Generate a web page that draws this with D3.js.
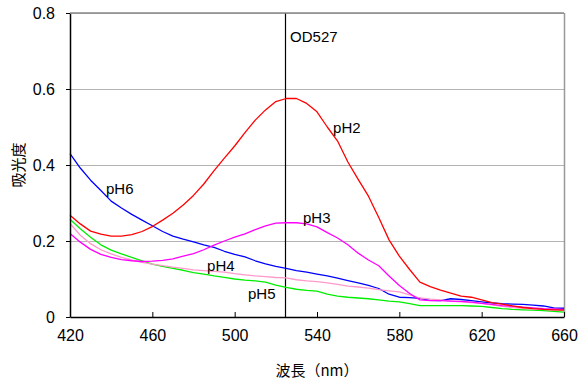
<!DOCTYPE html>
<html>
<head>
<meta charset="utf-8">
<script src="https://cdn.jsdelivr.net/npm/d3@7"></script>
<style>
  body { margin: 0; background: #fff; }
  text { font-family: "Liberation Sans", Arial, sans-serif; fill: #000; }
  .jp { font-family: "Noto Sans CJK JP", sans-serif; }
</style>
</head>
<body>
<div id="chart"></div>
<script>
// wavelengths, every 5 nm from 420 to 660
const wavelengths = [420, 425, 430, 435, 440, 445, 450, 455, 460, 465, 470, 475, 480, 485, 490, 495,
  500, 505, 510, 515, 520, 525, 530, 535, 540, 545, 550, 555, 560, 565, 570, 575, 580, 585, 590,
  595, 600, 605, 610, 615, 620, 625, 630, 635, 640, 645, 650, 655, 660];

const pH2 = [0.268, 0.245, 0.226, 0.218, 0.213, 0.213, 0.217, 0.225, 0.238, 0.255, 0.273, 0.295,
  0.320, 0.350, 0.385, 0.418, 0.450, 0.485, 0.518, 0.545, 0.567, 0.575, 0.575, 0.562, 0.540, 0.500,
  0.463, 0.408, 0.362, 0.318, 0.262, 0.203, 0.160, 0.125, 0.092, 0.080, 0.071, 0.063, 0.055, 0.052,
  0.045, 0.038, 0.034, 0.029, 0.025, 0.022, 0.020, 0.019, 0.018];

const pH3 = [0.220, 0.197, 0.178, 0.165, 0.157, 0.151, 0.148, 0.146, 0.147, 0.149, 0.153, 0.160,
  0.167, 0.177, 0.189, 0.200, 0.210, 0.219, 0.230, 0.240, 0.247, 0.248, 0.248, 0.245, 0.237, 0.222,
  0.208, 0.190, 0.168, 0.150, 0.135, 0.108, 0.083, 0.062, 0.045, 0.043, 0.043, 0.042, 0.041, 0.039,
  0.036, 0.033, 0.030, 0.028, 0.026, 0.024, 0.022, 0.021, 0.020];

const pH4 = [0.246, 0.215, 0.193, 0.177, 0.166, 0.157, 0.150, 0.144, 0.139, 0.135, 0.131, 0.128,
  0.124, 0.122, 0.120, 0.118, 0.114, 0.111, 0.108, 0.106, 0.104, 0.103, 0.098, 0.095, 0.093, 0.090,
  0.086, 0.081, 0.079, 0.076, 0.072, 0.069, 0.066, 0.058, 0.050, 0.047, 0.045, 0.042, 0.040, 0.038,
  0.036, 0.032, 0.028, 0.025, 0.023, 0.021, 0.020, 0.019, 0.018];

const pH5 = [0.257, 0.232, 0.210, 0.190, 0.176, 0.166, 0.157, 0.148, 0.139, 0.133, 0.128, 0.123,
  0.117, 0.113, 0.108, 0.104, 0.100, 0.097, 0.095, 0.092, 0.084, 0.078, 0.073, 0.070, 0.068, 0.060,
  0.055, 0.052, 0.050, 0.048, 0.045, 0.042, 0.040, 0.035, 0.030, 0.030, 0.030, 0.030, 0.030, 0.029,
  0.028, 0.025, 0.022, 0.020, 0.019, 0.018, 0.017, 0.015, 0.013];

const pH6 = [0.430, 0.392, 0.360, 0.333, 0.305, 0.287, 0.270, 0.255, 0.240, 0.225, 0.213, 0.205,
  0.198, 0.190, 0.183, 0.173, 0.165, 0.158, 0.148, 0.140, 0.133, 0.128, 0.122, 0.118, 0.113, 0.108,
  0.102, 0.096, 0.090, 0.083, 0.075, 0.060, 0.052, 0.051, 0.049, 0.044, 0.043, 0.048, 0.046, 0.043,
  0.040, 0.037, 0.035, 0.034, 0.033, 0.031, 0.029, 0.024, 0.023];

const seriesNames = ['pH6', 'pH5', 'pH4', 'pH3', 'pH2'];
const seriesValues = [pH6, pH5, pH4, pH3, pH2];
const seriesColors = ['#0000ff', '#00ee00', '#ff99cc', '#ff00ff', '#ff0000'];

// where each series label sits (wavelength, absorbance of text baseline)
const labelNames = ['pH2', 'pH6', 'pH3', 'pH4', 'pH5'];
const labelWl = [547.8, 437.5, 533.2, 486.6, 506.5];
const labelVal = [0.484, 0.324, 0.247, 0.121, 0.047];

const xTicks = [420, 460, 500, 540, 580, 620, 660];
const yTicks = [0, 0.2, 0.4, 0.6, 0.8];
const odLabel = 'OD527';
const odWavelength = 524.5;
const xTitle = '波長（nm）';
const yTitle = '吸光度';

const W = 579, H = 380;
const margin = { top: 13, right: 15, bottom: 63, left: 70 };
const width = W - margin.left - margin.right;
const height = H - margin.top - margin.bottom;

const svg = d3.select('#chart')
  .append('svg')
  .attr('width', W)
  .attr('height', H);

const g = svg.append('g')
  .attr('transform', `translate(${margin.left},${margin.top})`);

const x = d3.scaleLinear().domain([420, 660]).range([0, width]);
const y = d3.scaleLinear().domain([0, 0.8]).range([height, 0]);

// gridlines
g.append('g')
  .selectAll('line')
  .data(yTicks.filter((d) => d > 0))
  .enter()
  .append('line')
  .attr('x1', 0)
  .attr('x2', width)
  .attr('y1', (d) => y(d) + 0.5)
  .attr('y2', (d) => y(d) + 0.5)
  .attr('stroke', '#b4b4b4')
  .attr('stroke-width', 1);

// right border
g.append('line')
  .attr('x1', width + 0.5).attr('x2', width + 0.5)
  .attr('y1', 0).attr('y2', height)
  .attr('stroke', '#999').attr('stroke-width', 1.5);

// OD527 marker
g.append('line')
  .attr('x1', Math.round(x(odWavelength)) + 0.5)
  .attr('x2', Math.round(x(odWavelength)) + 0.5)
  .attr('y1', 0).attr('y2', height)
  .attr('stroke', '#000').attr('stroke-width', 1.2);

g.append('text')
  .attr('x', x(odWavelength) + 5)
  .attr('y', 29)
  .style('font-size', '15px')
  .text(odLabel);

// curves
const line = d3.line()
  .x((d, i) => x(wavelengths[i]))
  .y((d) => y(d));

g.append('g')
  .selectAll('path')
  .data(seriesValues)
  .enter()
  .append('path')
  .attr('d', line)
  .attr('fill', 'none')
  .attr('stroke', (d, i) => seriesColors[i])
  .attr('stroke-width', 1.3)
  .attr('stroke-linejoin', 'round');

// series labels
g.append('g')
  .selectAll('text')
  .data(labelNames)
  .enter()
  .append('text')
  .attr('x', (d, i) => x(labelWl[i]))
  .attr('y', (d, i) => y(labelVal[i]))
  .style('font-size', '15px')
  .text((d) => d);

// axes
const xAxis = g.append('g')
  .attr('transform', `translate(0,${height})`)
  .call(d3.axisBottom(x).tickValues(xTicks).tickSizeInner(-5).tickSizeOuter(0).tickPadding(13)
    .tickFormat(d3.format('d')));
xAxis.select('.domain').attr('stroke', '#000').attr('stroke-width', 1.5);
xAxis.selectAll('.tick line').attr('stroke', '#000');
xAxis.selectAll('.tick text').style('font-size', '16px')
  .style('font-family', '"Liberation Sans", Arial, sans-serif').attr('fill', '#000');

const yAxis = g.append('g')
  .call(d3.axisLeft(y).tickValues(yTicks).tickSizeInner(4).tickSizeOuter(0).tickPadding(11)
    .tickFormat((d) => (d === 0 ? '0' : d3.format('.1f')(d))));
yAxis.select('.domain').attr('stroke', '#000').attr('stroke-width', 1.5);
yAxis.selectAll('.tick line').attr('stroke', '#000');
yAxis.selectAll('.tick text').style('font-size', '16px')
  .style('font-family', '"Liberation Sans", Arial, sans-serif').attr('fill', '#000');

// top border
g.append('line')
  .attr('x1', 0).attr('x2', width)
  .attr('y1', 0).attr('y2', 0)
  .attr('stroke', '#888').attr('stroke-width', 1.5);

// axis titles
svg.append('text')
  .attr('class', 'jp')
  .attr('x', margin.left + width / 2)
  .attr('y', 376)
  .attr('text-anchor', 'middle')
  .style('font-size', '15px')
  .text(xTitle);

svg.append('text')
  .attr('class', 'jp')
  .attr('transform', `translate(24,${165}) rotate(-90)`)
  .attr('text-anchor', 'middle')
  .style('font-size', '15px')
  .text(yTitle);
</script>
</body>
</html>
